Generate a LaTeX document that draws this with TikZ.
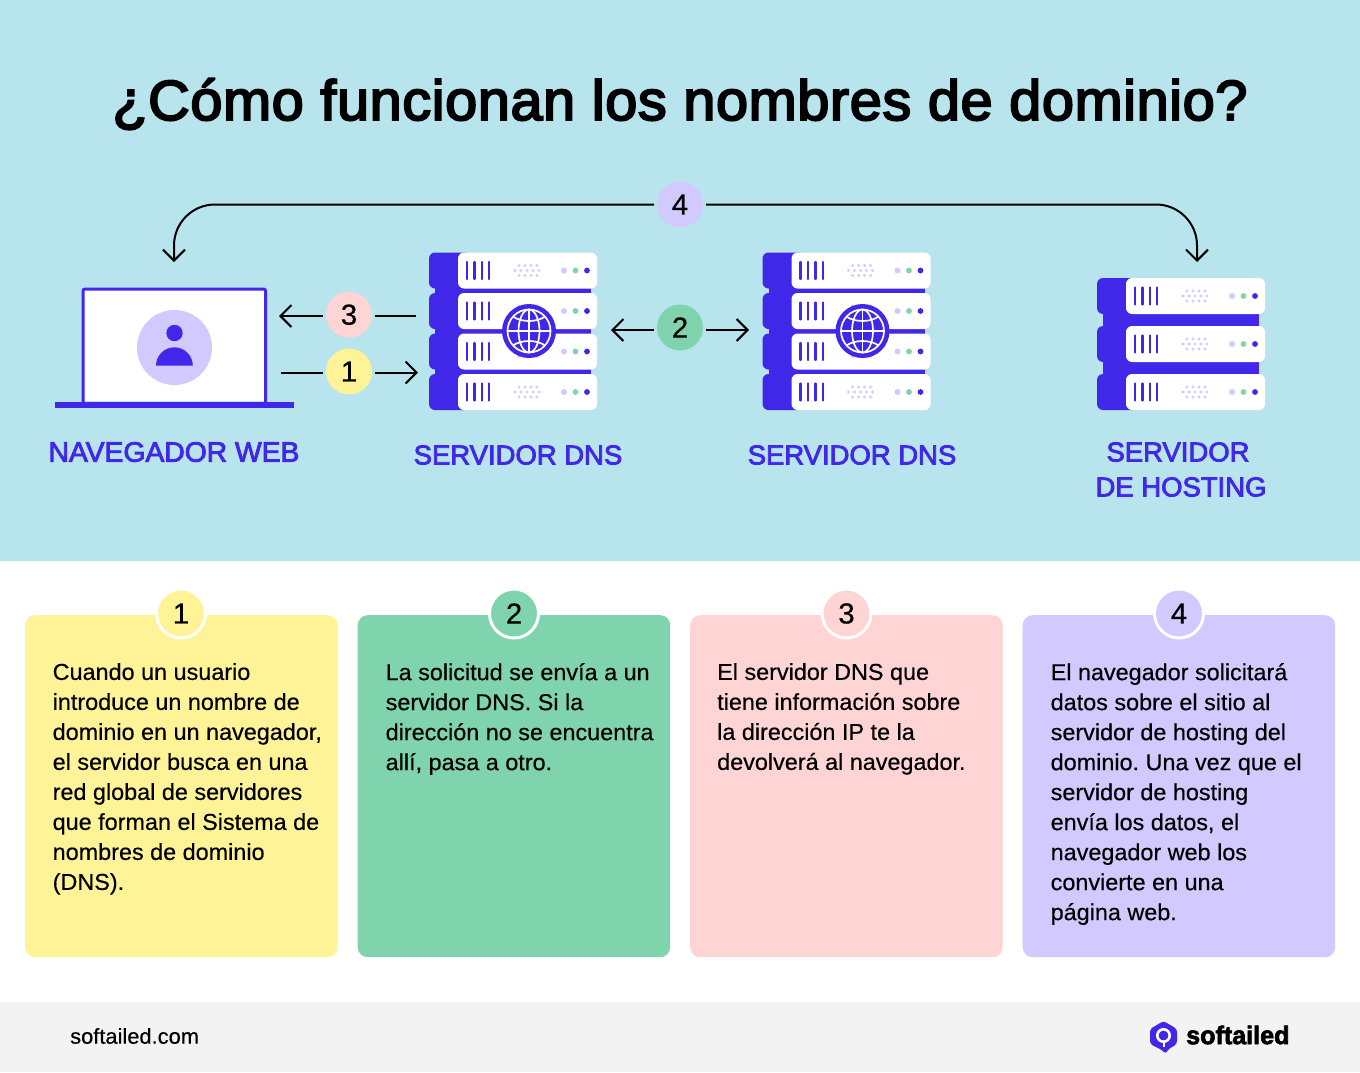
\documentclass[tikz,border=0pt]{standalone}
\usepackage{fontspec}
\setmainfont{Liberation Sans}[FakeStretch=1.017,FakeBold=0.4]
\newfontfamily\fonttitulo{Liberation Sans}[FakeStretch=1.02,FakeBold=3.5,LetterSpace=1.1]
\newfontfamily\fontrotulo{Liberation Sans}[FakeStretch=1.01,FakeBold=3]
\newfontfamily\fontmarca{Liberation Sans Bold}[FakeStretch=0.985,FakeBold=2.5]
\usetikzlibrary{arrows.meta}
\usetikzlibrary{positioning}
\definecolor{fondo}{HTML}{B8E4ED}
\definecolor{pie}{HTML}{F3F3F3}
\definecolor{azul}{HTML}{4128E8}
\definecolor{amarillo}{HTML}{FEF397}
\definecolor{verde}{HTML}{7FD4AE}
\definecolor{rosa}{HTML}{FED4D4}
\definecolor{lila}{HTML}{D2C9FE}
\newcommand{\placa}[1]{%
	\fill[azul,rounded corners=6pt] (0,#1) rectangle (42,#1+36);
	\fill[white,rounded corners=6pt] (29,#1) rectangle (168,#1+36);
	\foreach \xb in {38,45.5,53,60.3}
		\draw[azul,line width=2.2pt,line cap=round] (\xb,#1+9.5) -- (\xb,#1+26.5);
	\foreach \xb in {90,96,102,108}{
		\fill[lila] (\xb,#1+13) circle (1.7pt);
		\fill[lila] (\xb,#1+23) circle (1.7pt);
	}
	\foreach \xb in {86,92,98,104,110}
		\fill[lila] (\xb,#1+18) circle (1.7pt);
	\fill[lila] (135,#1+18) circle (3pt);
	\fill[verde] (146.5,#1+18) circle (2.9pt);
	\fill[azul] (158,#1+18) circle (2.9pt);
}
\tikzset{
	flecha/.style={draw=black,line width=2pt,-{Straight Barb[length=11pt,width=22pt]}},
	linea/.style={draw=black,line width=2pt},
	badge/.style={circle,minimum size=46pt,inner sep=0pt,outer sep=3pt,font=\fontsize{29}{29}\selectfont},
	cardbadge/.style={badge,draw=white,line width=3pt,minimum size=49pt,outer sep=0pt},
	card/.style={rounded corners=10pt,minimum width=312.5pt,minimum height=342pt,inner sep=0pt},
	cuerpo/.style={anchor=north west,align=left,inner sep=0pt,font=\fontsize{23}{30}\selectfont\frenchspacing},
	etiqueta/.style={text=azul,align=center,inner sep=0pt,font=\fontsize{28}{35}\selectfont\fontrotulo},
	etiquetadns/.style={etiqueta,font=\fontsize{27.2}{35}\selectfont\fontrotulo},
	pics/dnsrack/.style={code={
		\fill[azul] (6,4) rectangle (162,154);
		\fill[fondo] (162,0) rectangle (170,158);
		\placa{0}\placa{40.5}\placa{81}\placa{121.5}
		\fill[azul] (100,78.5) circle (27pt);
		\draw[white,line width=1.7pt] (100,78.5) circle (21.5pt);
		\draw[white,line width=1.7pt] (100,78.5) ellipse (10.5pt and 21.5pt);
		\draw[white,line width=1.7pt] (100,57) -- (100,100);
		\draw[white,line width=1.7pt] (78.5,78.5) -- (121.5,78.5);
		\draw[white,line width=1.7pt] (84,64) .. controls (92,70) and (108,70) .. (116,64);
		\draw[white,line width=1.7pt] (84,93) .. controls (92,87) and (108,87) .. (116,93);
	}},
	pics/hostrack/.style={code={
		\fill[azul] (6,4) rectangle (162,128);
		\placa{0}\placa{48}\placa{96}
	}}
}
\begin{document}
\begin{tikzpicture}[x=1pt,y=-1pt]
	\useasboundingbox (0,0) rectangle (1360,1072);
	\fill[fondo] (0,0) rectangle (1360,561);
	\fill[white] (0,561) rectangle (1360,1002);
	\fill[pie] (0,1002) rectangle (1360,1072);
	\node[inner sep=0pt,font=\fontsize{56.5}{60}\selectfont\fonttitulo] (titulo) at (680,104) {¿Cómo funcionan los nombres de dominio?};

	% navegador
	\fill[white] (83,289) rectangle (265,401);
	\draw[azul,line width=3pt,rounded corners=2pt] (83,402) -- (83,289) -- (265.5,289) -- (265.5,402);
	\fill[azul] (55,402) rectangle (293.5,408);
	\fill[lila] (174.5,347.5) circle (37.5pt);
	\fill[azul] (174.5,333) circle (8.2pt);
	\fill[azul] (156,365.7) arc[start angle=180,end angle=0,radius=18.4pt] -- cycle;

	% servidores
	\pic at (429,252.5) {dnsrack};
	\pic at (762.5,252.5) {dnsrack};
	\pic at (1097,278) {hostrack};

	% pasos
	\node[badge,fill=lila] (bcuatro) at (680,204.5) {4};
	\node[badge,fill=verde] (bdos) at (680,327.5) {2};
	\node[badge,fill=rosa] (btres) at (349,314.7) {3};
	\node[badge,fill=amarillo] (buno) at (349,371.5) {1};
	\coordinate (pnav) at (174,262);
	\coordinate (phost) at (1197,262);
	\coordinate (ptresa) at (279,316);
	\coordinate (ptresb) at (416,316);
	\coordinate (punoa) at (281,372.5);
	\coordinate (punob) at (418,372.5);
	\coordinate (pdosa) at (611,330);
	\coordinate (pdosb) at (749,330);
	\draw[flecha,rounded corners=41pt] (bcuatro.west) -| (pnav);
	\draw[flecha,rounded corners=41pt] (bcuatro.east) -| (phost);
	\draw[flecha] (btres.west |- ptresa) -- (ptresa);
	\draw[linea] (btres.east |- ptresb) -- (ptresb);
	\draw[linea] (buno.west |- punoa) -- (punoa);
	\draw[flecha] (buno.east |- punob) -- (punob);
	\draw[flecha] (bdos.west |- pdosa) -- (pdosa);
	\draw[flecha] (bdos.east |- pdosb) -- (pdosb);

	\node[etiqueta] (lnav) at (174,452) {NAVEGADOR WEB};
	\node[etiquetadns] (ldnsa) at (518,455) {SERVIDOR DNS};
	\node[etiquetadns] (ldnsb) at (852,455) {SERVIDOR DNS};
	\node[etiquetadns] (lhost) at (1181,469.5) {SERVIDOR\kern6pt\\DE HOSTING};

	% tarjetas
	\node[card,fill=amarillo,anchor=north west] (cuno) at (25,615) {};
	\node[card,fill=verde,anchor=north west] (cdos) at (357.5,615) {};
	\node[card,fill=rosa,anchor=north west] (ctres) at (690,615) {};
	\node[card,fill=lila,anchor=north west] (ccuatro) at (1022.5,615) {};
	\node[cardbadge,fill=amarillo] (nuno) at (181,613.5) {1};
	\node[cardbadge,fill=verde] (ndos) at (514,613.5) {2};
	\node[cardbadge,fill=rosa] (ntres) at (846.5,613.5) {3};
	\node[cardbadge,fill=lila] (ncuatro) at (1179,613.5) {4};
	\node[cuerpo] (tuno) at (52.5,663) {Cuando un usuario\\introduce un nombre de\\dominio en un navegador,\\el servidor busca en una\\red global de servidores\\que forman el Sistema de\\nombres de dominio\\(DNS).};
	\node[cuerpo] (tdos) at (385.5,663) {La solicitud se envía a un\\servidor DNS. Si la\\dirección no se encuentra\\allí, pasa a otro.};
	\node[cuerpo] (ttres) at (717,663) {El servidor DNS que\\tiene información sobre\\la dirección IP te la\\devolverá al navegador.};
	\node[cuerpo] (tcuatro) at (1050.5,663) {El navegador solicitará\\datos sobre el sitio al\\servidor de hosting del\\dominio. Una vez que el\\servidor de hosting\\envía los datos, el\\navegador web los\\convierte en una\\página web.};

	% pie
	\node[anchor=west,inner sep=0pt,font=\fontsize{21.5}{24}\selectfont] (web) at (70,1036) {softailed.com};
	\fill[azul,rounded corners=3pt] (1163.5,1021) -- (1177,1029) -- (1177,1044) -- (1168,1049.5) -- (1165.5,1054) -- (1162,1050) -- (1150,1044) -- (1150,1029) -- cycle;
	\draw[white,line width=2.6pt] (1163.5,1035.5) circle (6.2pt);
	\draw[white,line width=2pt] (1163.5,1041) -- (1163.5,1047);
	\node[anchor=west,inner sep=0pt,font=\fontsize{25.5}{28}\selectfont\fontmarca] (marca) at (1186,1035) {softailed};
\end{tikzpicture}
\end{document}
